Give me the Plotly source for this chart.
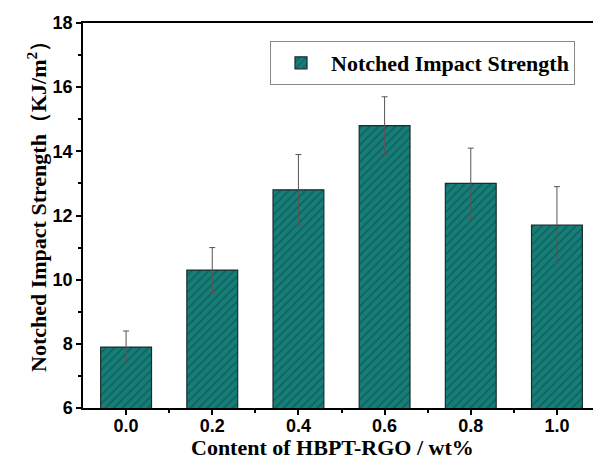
import plotly.graph_objects as go

contents = [0.0, 0.2, 0.4, 0.6, 0.8, 1.0]
strength = [7.9, 10.3, 12.8, 14.8, 13.0, 11.7]
err_plus = [0.5, 0.7, 1.1, 0.9, 1.1, 1.2]
tick_labels = ["0.0", "0.2", "0.4", "0.6", "0.8", "1.0"]
series_name = "Notched Impact Strength"
x_title = "Content of HBPT-RGO / wt%"
y_title = "Notched Impact Strength（KJ/m<sup>2</sup>）"

W, H = 593, 461
L, R, T, B = 83, 0, 23, 53
pw, ph = W - L - R, H - T - B

fig = go.Figure()
fig.add_trace(go.Bar(
    x=contents, y=strength, name="<b>" + series_name + "</b>", width=0.118,
    marker=dict(color="#167E78", line=dict(color="#1b2b2b", width=1.2),
                pattern=dict(shape="/", fgcolor="#0f3d3a", bgcolor="#167E78", size=6, solidity=0.25)),
    error_y=dict(type="data", array=err_plus, visible=True, color="#555555", thickness=1, width=3),
    showlegend=True,
))

fig.update_layout(
    width=W, height=H,
    margin=dict(l=L, r=R, t=T, b=B),
    paper_bgcolor="white", plot_bgcolor="white",
    legend=dict(x=(270 - L) / pw, y=(H - B - 41) / ph, xanchor="left", yanchor="top",
                bordercolor="#888888", borderwidth=1, bgcolor="white", itemwidth=50,
                font=dict(family="Liberation Serif", size=22, color="black")),
    font=dict(family="Liberation Sans", color="black"),
    annotations=[
        dict(text="<b>" + x_title + "</b>", xref="paper", yref="paper",
             x=(332 - L) / pw, y=-B / ph, xanchor="center", yanchor="bottom", borderpad=0,
             showarrow=False, font=dict(family="Liberation Serif", size=22, color="black")),
        dict(text="<b>" + y_title + "</b>", xref="paper", yref="paper", textangle=-90,
             x=-(L - 37) / pw, y=(H - B - 201) / ph, xanchor="center", yanchor="middle",
             showarrow=False, font=dict(family="Liberation Serif", size=22, color="black")),
    ],
)
fig.update_xaxes(
    range=[-0.1, 1.0837], tickvals=contents, ticktext=tick_labels, automargin=False,
    ticks="outside", ticklen=5, tickwidth=1.5, tickcolor="black", ticklabelstandoff=-4,
    minor=dict(tickvals=[0.1, 0.3, 0.5, 0.7, 0.9], ticks="outside", ticklen=3, tickwidth=1.5, tickcolor="black"),
    showline=True, linecolor="black", linewidth=1.5, mirror=True,
    showgrid=False, zeroline=False,
    tickfont=dict(family="Liberation Sans", size=18, color="black", weight="bold"),
)
fig.update_yaxes(
    range=[6, 18], tickvals=[6, 8, 10, 12, 14, 16, 18], automargin=False,
    ticks="outside", ticklen=5, tickwidth=1.5, tickcolor="black",
    minor=dict(tickvals=[7, 9, 11, 13, 15, 17], ticks="outside", ticklen=3, tickwidth=1.5, tickcolor="black"),
    showline=True, linecolor="black", linewidth=1.5, mirror=False,
    showgrid=False, zeroline=False,
    tickfont=dict(family="Liberation Sans", size=18, color="black", weight="bold"),
)
fig.write_html("out.html")
